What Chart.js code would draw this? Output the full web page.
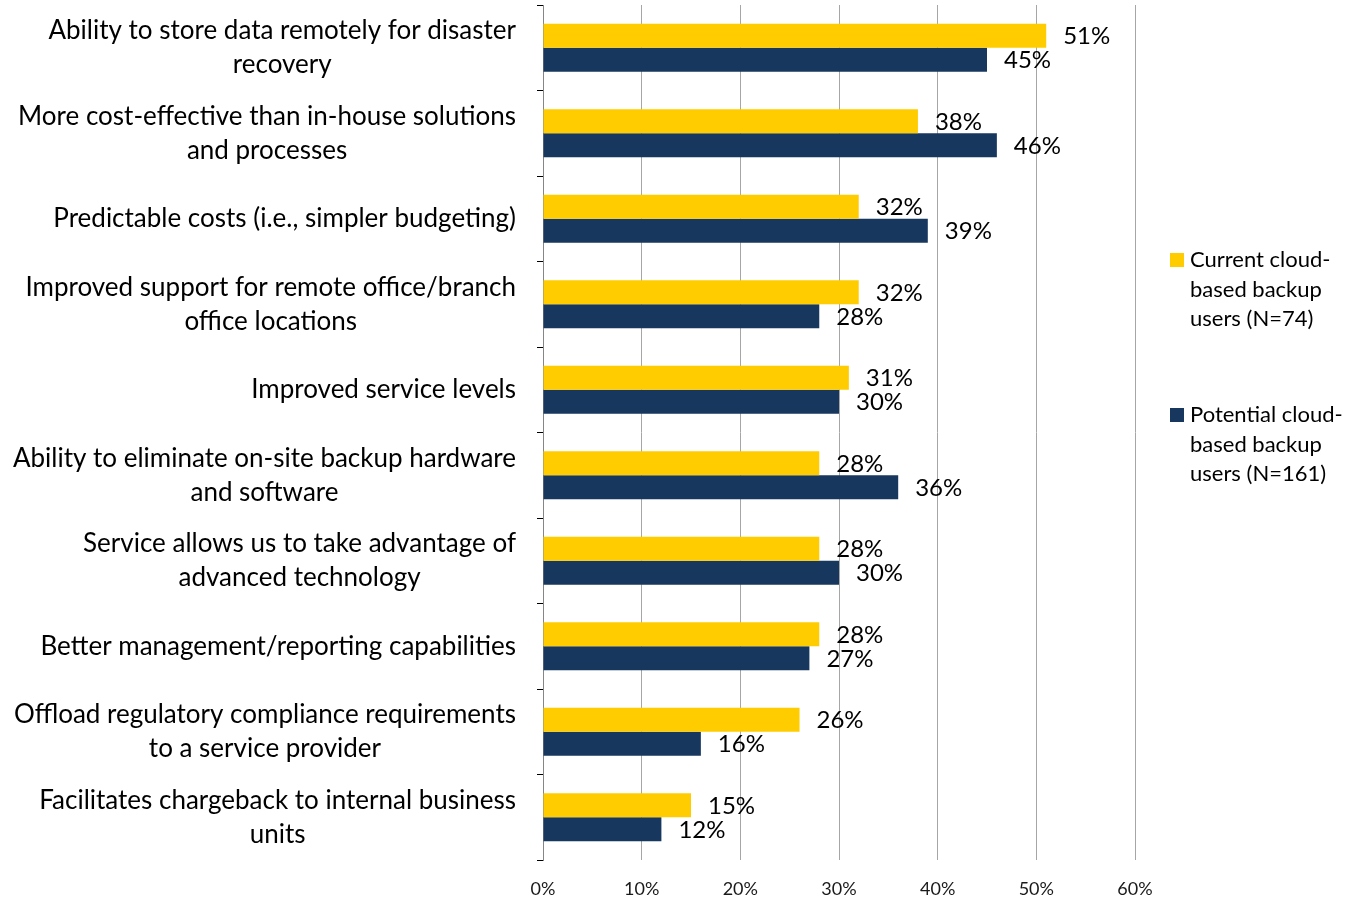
<!DOCTYPE html>
<html><head><meta charset="utf-8">
<script src="https://cdn.jsdelivr.net/npm/chart.js@4.4.1/dist/chart.umd.min.js"></script>
<style>html,body{margin:0;padding:0;background:#fff;}#wrap{width:1356px;height:902px;position:relative;}</style>
</head><body><div id="wrap"><canvas id="c" width="1356" height="902"></canvas></div>
<script>
const categories = [
  ["Ability to store data remotely for disaster","recovery"],
  ["More cost-effective than in-house solutions","and processes"],
  ["Predictable costs (i.e., simpler budgeting)"],
  ["Improved support for remote office/branch","office locations"],
  ["Improved service levels"],
  ["Ability to eliminate on-site backup hardware","and software"],
  ["Service allows us to take advantage of","advanced technology"],
  ["Better management/reporting capabilities"],
  ["Offload regulatory compliance requirements","to a service provider"],
  ["Facilitates chargeback to internal business","units"]
];
const currentUsers = [51, 38, 32, 32, 31, 28, 28, 28, 26, 15];
const potentialUsers = [45, 46, 39, 28, 30, 36, 30, 27, 16, 12];
const seriesNames = [["Current cloud-","based backup","users (N=74)"],["Potential cloud-","based backup","users (N=161)"]];
const xTicks = [0,10,20,30,40,50,60];

const FONT = "Lato, 'Open Sans', sans-serif";

const catLabels = {
  id: 'catLabels',
  afterDraw(chart) {
    const ctx = chart.ctx;
    const ys = chart.scales.y;
    ctx.save();
    ctx.font = "26px " + FONT;
    ctx.fillStyle = "#000";
    ctx.textAlign = "center";
    ctx.textBaseline = "middle";
    const right = 516, lh = 34;
    chart.data.labels.forEach((lines, i) => {
      const cy = ys.getPixelForTick(i);
      const maxW = Math.max(...lines.map(l => ctx.measureText(l).width));
      const cx = right - maxW / 2;
      const y0 = cy - (lines.length - 1) * lh / 2;
      lines.forEach((l, li) => ctx.fillText(l, cx, y0 + li * lh));
    });
    ctx.restore();
  }
};

const dataLabels = {
  id: 'dataLabels',
  afterDatasetsDraw(chart) {
    const ctx = chart.ctx;
    ctx.save();
    ctx.font = "24px " + FONT;
    ctx.fillStyle = "#000";
    ctx.textAlign = "left";
    ctx.textBaseline = "middle";
    chart.data.datasets.forEach((ds, di) => {
      chart.getDatasetMeta(di).data.forEach((bar, i) => {
        ctx.fillText(ds.data[i] + "%", bar.x + 17, bar.y + 1);
      });
    });
    ctx.restore();
  }
};

const sideLegend = {
  id: 'sideLegend',
  afterDraw(chart) {
    const ctx = chart.ctx;
    ctx.save();
    ctx.font = "22px " + FONT;
    ctx.textBaseline = "middle";
    ctx.textAlign = "left";
    const tops = [260, 415];
    chart.data.datasets.forEach((ds, di) => {
      const y0 = tops[di];
      ctx.fillStyle = ds.backgroundColor;
      ctx.fillRect(1170, y0 - 7, 14, 14);
      ctx.fillStyle = "#000";
      seriesNames[di].forEach((line, li) => {
        ctx.fillText(line, 1190, y0 + li * 29.5);
      });
    });
    ctx.restore();
  }
};

new Chart(document.getElementById('c'), {
  type: 'bar',
  data: {
    labels: categories,
    datasets: [
      { label: seriesNames[0].join(' '), data: currentUsers, backgroundColor: '#FFCC00', categoryPercentage: 0.562, barPercentage: 1.0 },
      { label: seriesNames[1].join(' '), data: potentialUsers, backgroundColor: '#17375E', categoryPercentage: 0.562, barPercentage: 1.0 }
    ]
  },
  options: {
    indexAxis: 'y',
    responsive: false,
    animation: false,
    layout: { padding: { top: 5, right: 221, left: 0, bottom: 0 } },
    plugins: { legend: { display: false }, tooltip: { enabled: false } },
    scales: {
      x: {
        min: 0, max: 60,
        afterBuildTicks(scale) { scale.ticks = xTicks.map(v => ({ value: v })); },
        afterFit(scale) { scale.height = 42; },
        ticks: { callback: v => v + '%', color: '#1a1a1a', font: { family: FONT, size: 18 }, padding: 18 },
        grid: { color: '#A6A6A6', lineWidth: 1, drawTicks: false },
        border: { display: false }
      },
      y: {
        afterFit(scale) { scale.width = 543; },
        ticks: { display: false },
        grid: { offset: true, drawOnChartArea: false, drawTicks: true, tickLength: 6, color: '#000' },
        border: { display: true, color: '#868686', width: 1 }
      }
    }
  },
  plugins: [dataLabels, sideLegend, catLabels]
});
</script></body></html>
